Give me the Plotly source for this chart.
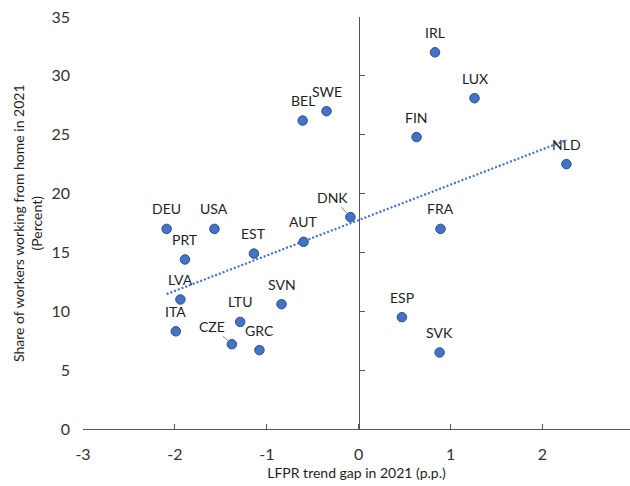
import numpy as np
import plotly.graph_objects as go

# Country codes, LFPR trend gap (p.p.) and share working from home (%) in 2021
countries = ["IRL", "LUX", "FIN", "NLD", "SWE", "BEL", "DNK", "FRA", "AUT", "DEU", "USA",
             "PRT", "EST", "LVA", "ITA", "LTU", "SVN", "CZE", "GRC", "ESP", "SVK"]
lfpr_gap = [0.83, 1.26, 0.63, 2.26, -0.35, -0.61, -0.09, 0.89, -0.60, -2.09, -1.57,
            -1.89, -1.14, -1.94, -1.99, -1.29, -0.84, -1.38, -1.08, 0.47, 0.88]
wfh_share = [32.0, 28.1, 24.8, 22.5, 27.0, 26.2, 18.0, 17.0, 15.9, 17.0, 17.0,
             14.4, 14.9, 11.0, 8.3, 9.1, 10.6, 7.2, 6.7, 9.5, 6.5]

x_ticks = [-3, -2, -1, 0, 1, 2]
x_tick_labels = ["-3", "-2", "-1", "0", "1", "2"]
y_ticks = [0, 5, 10, 15, 20, 25, 30, 35]

X_RANGE = [-3, 2.952]
Y_RANGE = [0, 35]

FONT = "Lato"
BLUE = "#4472C4"
EDGE = "#2F4F8A"
AXIS = "#555555"
TEXT = "#1e1e1e"

# labels that sit away from their point, joined by a short leader line (pixel offsets)
leader_offsets = {"DNK": (-18, -20), "CZE": (-20, -18)}

fig = go.Figure()

# linear trend over the observed range
slope, intercept = np.polyfit(lfpr_gap, wfh_share, 1)
trend_x = np.array([min(lfpr_gap), max(lfpr_gap)])
trend_y = slope * trend_x + intercept
fig.add_trace(go.Scatter(
    x=trend_x, y=trend_y, mode="lines",
    line=dict(color=BLUE, width=2.2, dash="2px,2px"),
    hoverinfo="skip", showlegend=False,
))

fig.add_trace(go.Scatter(
    x=lfpr_gap, y=wfh_share, mode="markers",
    marker=dict(size=9.5, color=BLUE, line=dict(color=EDGE, width=1)),
    text=countries, showlegend=False,
))

# vertical axis line crossing at x = 0 (ticks point right)
fig.add_trace(go.Scatter(
    x=[0, 0], y=Y_RANGE, yaxis="y2", mode="lines",
    line=dict(width=0), hoverinfo="skip", showlegend=False,
))

annotations = []
for name, gx, gy in zip(countries, lfpr_gap, wfh_share):
    if name in leader_offsets:
        ax, ay = leader_offsets[name]
        annotations.append(dict(
            x=gx, y=gy, text=name, showarrow=True, arrowhead=0,
            arrowcolor="#8c8c8c", arrowwidth=1, ax=ax, ay=ay, standoff=5,
            font=dict(family=FONT, size=14, color=TEXT),
        ))
    else:
        annotations.append(dict(
            x=gx, y=gy, text=name, showarrow=False, yshift=20,
            xanchor="center", yanchor="middle",
            font=dict(family=FONT, size=14, color=TEXT),
        ))

annotations.append(dict(
    xref="paper", yref="paper", x=0, y=0.5, xshift=-56,
    text="Share of workers working from home in 2021<br>(Percent)",
    textangle=-90, showarrow=False, xanchor="center", yanchor="middle",
    font=dict(family=FONT, size=14, color=TEXT),
))

y2_pos = (0 - X_RANGE[0]) / (X_RANGE[1] - X_RANGE[0])

fig.update_layout(
    width=630, height=486,
    margin=dict(l=83, r=0, t=17, b=57),
    paper_bgcolor="white", plot_bgcolor="white",
    font=dict(family=FONT, color=TEXT),
    annotations=annotations,
    xaxis=dict(
        range=X_RANGE, tickvals=x_ticks, ticktext=x_tick_labels,
        showgrid=False, zeroline=False,
        showline=True, linecolor=AXIS, linewidth=1.3,
        ticks="inside", ticklen=5, tickcolor=AXIS, tickwidth=1.3,
        ticklabelstandoff=11,
        tickfont=dict(family=FONT, size=16, color="#333333"),
        title=dict(text="LFPR trend gap in 2021 (p.p.)", standoff=5,
                   font=dict(family=FONT, size=14, color=TEXT)),
    ),
    yaxis=dict(
        range=Y_RANGE, tickvals=y_ticks, showgrid=False, zeroline=False,
        showline=False, ticks="", ticklabelstandoff=12,
        tickfont=dict(family=FONT, size=16, color="#333333"),
    ),
    yaxis2=dict(
        range=Y_RANGE, tickvals=y_ticks, overlaying="y", anchor="free",
        position=y2_pos, side="left", showgrid=False, zeroline=False,
        showline=True, linecolor=AXIS, linewidth=1.3,
        ticks="inside", ticklen=5, tickcolor=AXIS, tickwidth=1.3,
        showticklabels=False,
    ),
)

fig.write_html("out.html")
